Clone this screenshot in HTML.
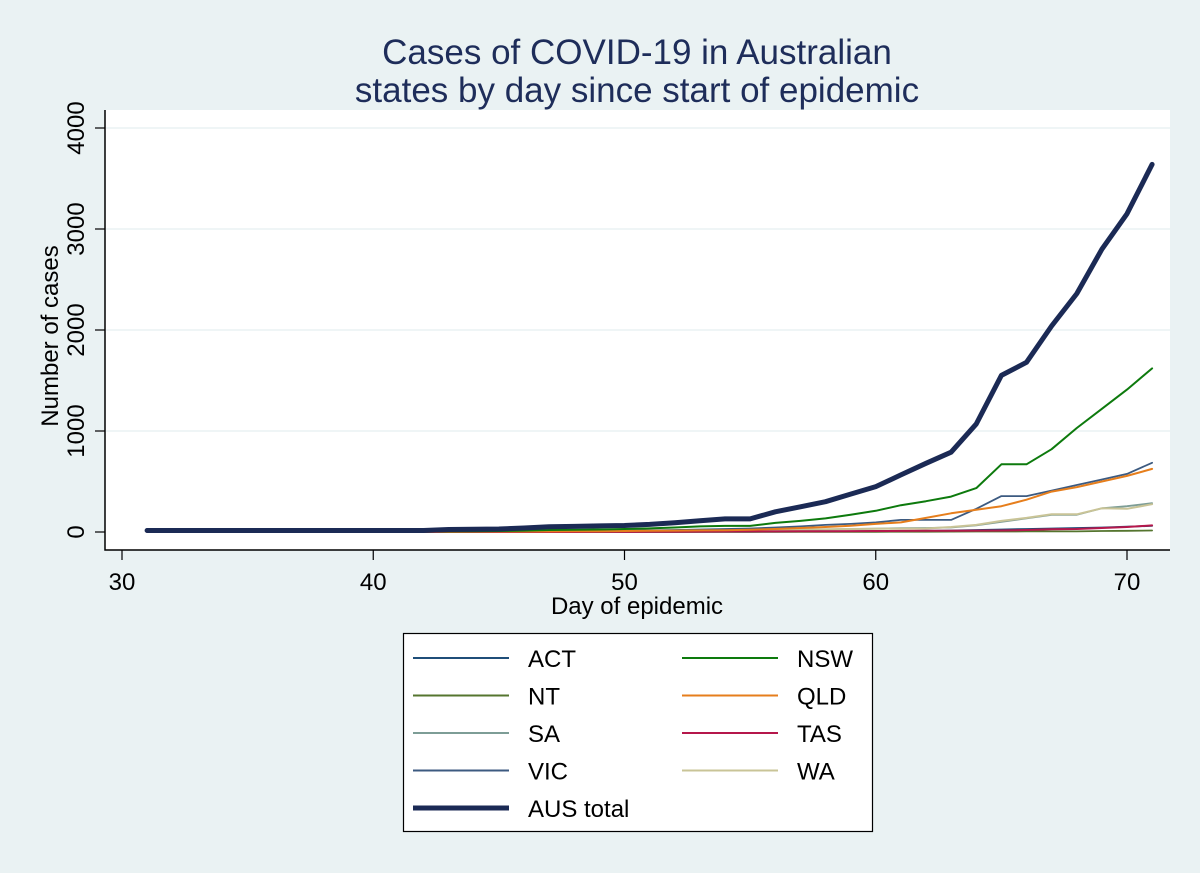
<!DOCTYPE html>
<html><head><meta charset="utf-8"><style>
body{margin:0;background:#eaf2f3;}
svg{display:block;font-family:"Liberation Sans",Arial,sans-serif;}
</style></head><body>
<svg id="chart" width="1200" height="873" viewBox="0 0 1200 873">
<rect x="0" y="0" width="1200" height="873" fill="#eaf2f3"/>
<text x="637" y="64" font-size="35" text-anchor="middle" fill="#1e2d5a">Cases of COVID-19 in Australian</text>
<text x="637" y="102" font-size="35" text-anchor="middle" fill="#1e2d5a">states by day since start of epidemic</text>
<rect x="105" y="110" width="1065" height="440" fill="#ffffff"/>
<g id="grid"></g>
<g id="series"></g>
<g id="axes"></g>
<text x="637" y="614" font-size="24" text-anchor="middle" fill="#000">Day of epidemic</text>
<text transform="translate(58,336) rotate(-90)" font-size="24" text-anchor="middle" fill="#000">Number of cases</text>
<rect x="403.5" y="633.5" width="469" height="198" fill="#fff" stroke="#000" stroke-width="1.2"/>
<g id="legend"></g>
</svg>
<script>
const days=[31,32,33,34,35,36,37,38,39,40,41,42,43,44,45,46,47,48,49,50,51,52,53,54,55,56,57,58,59,60,61,62,63,64,65,66,67,68,69,70,71];
const aus=[15,15,15,15,15,15,15,15,15,15,15,15,25,28,30,40,52,55,60,64,75,92,112,130,130,200,250,300,375,450,565,680,790,1070,1550,1680,2040,2360,2800,3150,3640];
const nsw=[4,4,4,4,4,4,4,4,4,4,4,4,6,8,10,14,20,22,25,30,36,45,55,60,60,90,110,135,170,210,265,305,350,435,670,670,820,1030,1220,1410,1620];
const vic=[6,6,6,6,6,6,6,6,6,6,6,6,8,9,9,10,11,11,12,14,16,20,25,30,35,45,55,70,80,95,120,120,120,230,355,355,410,465,520,575,685];
const qld=[2,2,2,2,2,2,2,2,2,2,2,2,3,4,5,5,6,7,8,10,12,14,16,18,22,30,40,50,62,80,95,140,185,220,255,320,400,445,500,555,625];
const sa=[1,1,1,1,1,1,1,1,1,1,1,1,1,2,2,2,3,3,4,4,5,6,7,9,12,16,20,25,30,34,38,40,45,65,100,135,170,170,235,255,285];
const wa=[1,1,1,1,1,1,1,1,1,1,1,1,1,2,2,3,3,4,5,6,8,10,12,14,17,20,25,28,30,32,34,35,50,70,110,140,175,175,235,230,275];
const tas=[0,0,0,0,0,0,0,0,0,0,0,0,0,0,0,0,0,0,1,1,2,3,4,5,6,6,7,8,9,10,11,12,13,14,15,20,28,30,40,50,65];
const act=[0,0,0,0,0,0,0,0,0,0,0,0,0,0,0,0,0,0,0,1,1,1,2,2,2,3,4,5,6,8,10,12,15,20,25,30,35,40,45,52,60];
const nt=[0,0,0,0,0,0,0,0,0,0,0,0,0,0,0,0,0,0,0,0,0,0,1,1,1,1,1,1,2,2,3,3,4,5,5,6,6,6,10,12,15];
const xTicks=[30,40,50,60,70];
const yTicks=[0,1000,2000,3000,4000];
const NS="http://www.w3.org/2000/svg";
const X=d=>122+(d-30)*(1127-122)/40;
const Y=v=>532-v*0.101;
function mk(t,a,p){const e=document.createElementNS(NS,t);for(const k in a)e.setAttribute(k,a[k]);p.appendChild(e);return e;}
const grid=document.getElementById('grid'),axes=document.getElementById('axes'),ser=document.getElementById('series'),leg=document.getElementById('legend');
yTicks.forEach(v=>{
 if(v>0){const g=mk('line',{x1:106,x2:1170,y1:Y(v),y2:Y(v),stroke:'#eaf2f3','stroke-width':1.5},grid);
 
 }
 const t=mk('line',{x1:95,x2:105,y1:Y(v),y2:Y(v),stroke:'#000','stroke-width':1.2},axes);
 
 
 const l=mk('text',{transform:`translate(84,${Y(v)}) rotate(-90)`,'font-size':24,'text-anchor':'middle',fill:'#000'},axes);l.textContent=v;
 
 
});
xTicks.forEach(v=>{
 const t=mk('line',{x1:X(v),x2:X(v),y1:550,y2:560,stroke:'#000','stroke-width':1.2},axes);
 
 
 const l=mk('text',{x:X(v),y:590,'font-size':24,'text-anchor':'middle',fill:'#000'},axes);l.textContent=v;
 
 
});
const ax=mk('path',{d:'M105,110V550H1170',fill:'none',stroke:'#000','stroke-width':1.5},axes);


const series=[
 ['ACT',act,'#1f4e79',1.8],['NT',nt,'#55752f',1.8],['SA',sa,'#7d9d96',1.8],['VIC',vic,'#3c5a80',1.8],
 ['WA',wa,'#c9c497',2],['TAS',tas,'#b5174b',2],['QLD',qld,'#e67e1c',2],['NSW',nsw,'#0d7a0d',2],['AUS total',aus,'#1b2a55',5]];
series.forEach(s=>{
 const d=days.map((dd,i)=>(i?'L':'M')+X(dd).toFixed(1)+','+Y(s[1][i]).toFixed(1)).join('');
 const p=mk('path',{d:d,fill:'none',stroke:s[2],'stroke-width':s[3],'stroke-linejoin':'round','stroke-linecap':'round'},ser);
 
 
});
const legItems=[['ACT','#1f4e79',2,0,0],['NSW','#0d7a0d',2,1,0],['NT','#55752f',2,0,1],['QLD','#e67e1c',2,1,1],['SA','#7d9d96',2,0,2],['TAS','#b5174b',2,1,2],['VIC','#3c5a80',2,0,3],['WA','#c9c497',2,1,3],['AUS total','#1b2a55',5,0,4]];
legItems.forEach(it=>{
 const x0=it[3]?682:413, y=658+it[4]*37.5;
 const g=mk('g',{},leg);
 
 
 mk('line',{x1:x0,x2:x0+96,y1:y,y2:y,stroke:it[1],'stroke-width':it[2]},g);
 const t=mk('text',{x:x0+115,y:y+9,'font-size':24,fill:'#000'},g);t.textContent=it[0];
});
</script>
</body></html>
